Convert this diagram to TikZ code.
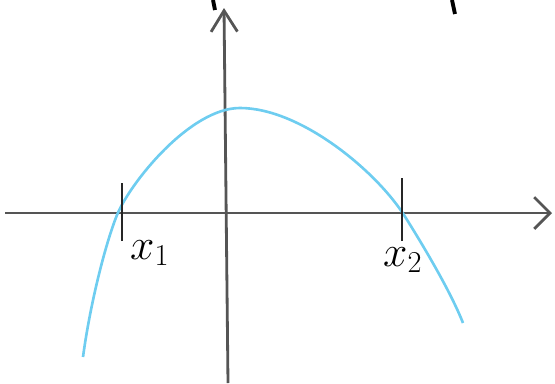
\documentclass[tikz,border=0pt]{standalone}
\usepackage{amsmath}
\usetikzlibrary{arrows.meta}
\definecolor{pencil}{RGB}{85,85,85}
\definecolor{skyline}{RGB}{110,205,240}
\tikzset{>=latex,
  axis/.style={line width=1.6pt, draw=pencil},
  tickmark/.style={line width=1.5pt, draw=black!85},
  lbl/.style={anchor=base west, font=\fontsize{26}{30}\selectfont}}

\begin{document}
\begin{tikzpicture}[x=0.02cm, y=-0.02cm]
\useasboundingbox (0,0) rectangle (555,383);

% axes
\coordinate (xs) at (5,213);
\coordinate (xe) at (552,213);
\coordinate (ys) at (228,383);
\coordinate (ye) at (224,8);
\draw[axis, -{Straight Barb[length=9pt, width=18pt]}] (xs) -- (xe);
\draw[axis, -{Straight Barb[length=12pt, width=15pt]}] (ys) -- (ye);

% the curve
\coordinate (c0) at (83,357);
\coordinate (c1) at (117,215);
\coordinate (top) at (240,108);
\coordinate (c2) at (404,215);
\coordinate (c3) at (463,323);
\draw[skyline, line width=1.5pt] (c0) .. controls (90,305) and (105,245) .. (c1)
  .. controls (130,183) and (190,108) .. (top)
  .. controls (300,108) and (375,170) .. (c2)
  .. controls (421,242) and (450,290) .. (c3);

% roots
\coordinate (t1) at (122,213);
\coordinate (t2) at (402,213);
\draw[tickmark] ([yshift=-16]t1) -- ([yshift=17]t1);
\draw[tickmark] ([yshift=-16]t2) -- ([yshift=20]t2);
\node[lbl] (x1) at (124,259) {$x_1$};
\node[lbl] (x2) at (377,266) {$x_2$};

% marks cut off at the top
\draw[black, line width=2.2pt] (213,0) -- (215,10);
\draw[black, line width=2.2pt] (452,0) -- (455,14);
\end{tikzpicture}
\end{document}
